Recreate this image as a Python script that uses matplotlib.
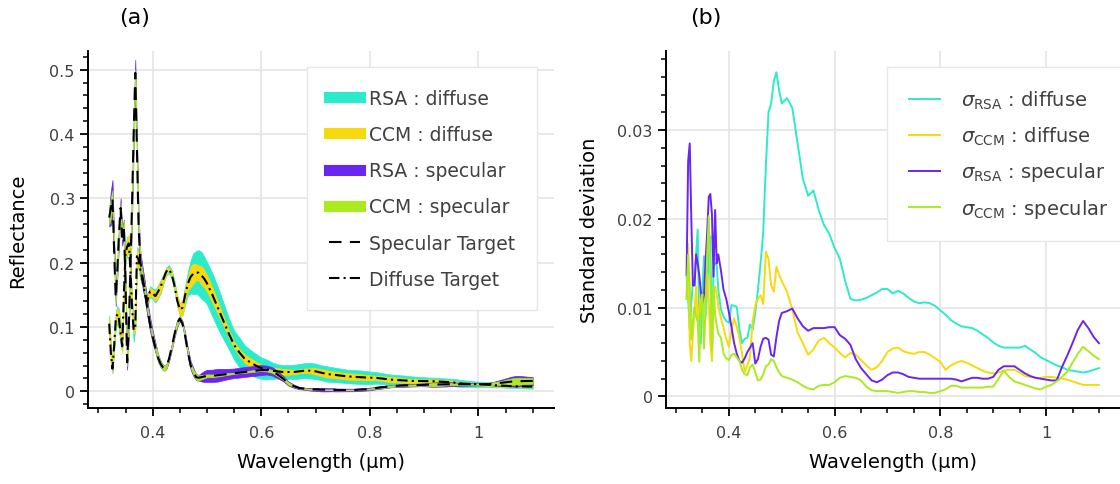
import numpy as np
import matplotlib
matplotlib.use('Agg')
import matplotlib.pyplot as plt
from matplotlib.ticker import MultipleLocator, FuncFormatter

# Wellenlaengen (um): fein im UV-Bereich, dann grober
wl = np.concatenate([np.linspace(0.32, 0.38, 21),
                     np.linspace(0.385, 0.50, 24),
                     np.linspace(0.51, 1.10, 60)])

# Zielspektren (Reflektanz)
spec_target = np.array([
    0.270, 0.285, 0.300, 0.220, 0.145, 0.190, 0.245, 0.285, 0.240, 0.255, 0.170,
    0.045, 0.100, 0.190, 0.290, 0.400, 0.495, 0.380, 0.260, 0.205, 0.185,
    0.160, 0.130, 0.105, 0.085, 0.068, 0.052, 0.042, 0.036, 0.038, 0.050, 0.068, 0.088,
    0.105, 0.113, 0.105, 0.085, 0.060, 0.040, 0.030, 0.022, 0.021, 0.022, 0.023, 0.024,
    0.024, 0.025, 0.026, 0.027, 0.028, 0.029, 0.030, 0.031, 0.032, 0.033,
    0.033, 0.031, 0.026, 0.020, 0.012, 0.008, 0.005, 0.004, 0.003, 0.003,
    0.0025, 0.0025, 0.0025, 0.002, 0.002, 0.002, 0.002, 0.0025, 0.003, 0.0035,
    0.005, 0.006, 0.007, 0.008, 0.0085, 0.009, 0.0093, 0.0095, 0.0098, 0.010,
    0.0102, 0.0104, 0.0106, 0.0108, 0.011, 0.011, 0.011, 0.011, 0.011, 0.011,
    0.0112, 0.0115, 0.012, 0.013, 0.014, 0.015, 0.0155, 0.0158, 0.016, 0.016])

diff_target = np.array([
    0.105, 0.060, 0.035, 0.070, 0.110, 0.120, 0.112, 0.090, 0.070, 0.150, 0.215,
    0.225, 0.230, 0.190, 0.130, 0.095, 0.100, 0.210, 0.205, 0.190, 0.178,
    0.155, 0.140, 0.155, 0.152, 0.148, 0.155, 0.163, 0.175, 0.186, 0.190, 0.182, 0.165,
    0.142, 0.127, 0.130, 0.150, 0.168, 0.178, 0.183, 0.185, 0.184, 0.180, 0.175, 0.168,
    0.150, 0.130, 0.110, 0.090, 0.072, 0.060, 0.050, 0.045, 0.040, 0.036,
    0.034, 0.032, 0.031, 0.030, 0.030, 0.030, 0.031, 0.032, 0.032, 0.031,
    0.029, 0.027, 0.026, 0.025, 0.024, 0.023, 0.0225, 0.022, 0.0215, 0.021,
    0.021, 0.020, 0.019, 0.018, 0.0175, 0.017, 0.0165, 0.016, 0.016, 0.0158,
    0.0157, 0.0155, 0.015, 0.0145, 0.014, 0.013, 0.012, 0.0115, 0.0113, 0.011,
    0.0105, 0.010, 0.0095, 0.009, 0.0085, 0.008, 0.0078, 0.0075, 0.0073, 0.0072])

# Standardabweichungen
sig_rsa_diff = np.array([
    0.0135, 0.0110, 0.0075, 0.0105, 0.0130, 0.0125, 0.0160, 0.0188, 0.0080, 0.0060, 0.0120,
    0.0158, 0.0090, 0.0120, 0.0160, 0.0180, 0.0040, 0.0146, 0.0150, 0.0148, 0.0120,
    0.0098, 0.0090, 0.0085, 0.0083, 0.0103, 0.0102, 0.0101, 0.0075, 0.0060, 0.0065, 0.0066, 0.0081,
    0.0075, 0.0095, 0.0120, 0.0150, 0.0185, 0.0260, 0.0320, 0.0330, 0.0355, 0.0365, 0.0345, 0.0330,
    0.0336, 0.0325, 0.0285, 0.0245, 0.0226, 0.0232, 0.0210, 0.0193, 0.0183, 0.0167,
    0.0155, 0.0130, 0.0110, 0.0108, 0.0109, 0.0111, 0.0114, 0.0117, 0.0121, 0.0121,
    0.0116, 0.0119, 0.0116, 0.0111, 0.0107, 0.0105, 0.0106, 0.0105, 0.0102, 0.0097,
    0.0092, 0.0086, 0.0082, 0.0079, 0.0078, 0.0077, 0.0074, 0.0070, 0.0066, 0.0061,
    0.0057, 0.0055, 0.0055, 0.0055, 0.0055, 0.0057, 0.0053, 0.0049, 0.0044, 0.0041,
    0.0038, 0.0035, 0.0033, 0.0030, 0.0029, 0.0028, 0.0027, 0.0028, 0.0030, 0.0032])

sig_ccm_diff = np.array([
    0.0110, 0.0172, 0.0060, 0.0040, 0.0070, 0.0095, 0.0124, 0.0085, 0.0100, 0.0116, 0.0095,
    0.0110, 0.0140, 0.0138, 0.0105, 0.0060, 0.0040, 0.0116, 0.0124, 0.0115, 0.0102,
    0.0088, 0.0077, 0.0065, 0.0056, 0.0075, 0.0088, 0.0078, 0.0066, 0.0048, 0.0028, 0.0035, 0.0045,
    0.0085, 0.0103, 0.0110, 0.0114, 0.0104, 0.0163, 0.0155, 0.0125, 0.0118, 0.0146, 0.0137, 0.0130,
    0.0118, 0.0098, 0.0072, 0.0060, 0.0047, 0.0053, 0.0063, 0.0066, 0.0060, 0.0055,
    0.0049, 0.0044, 0.0049, 0.0047, 0.0041, 0.0035, 0.0030, 0.0033, 0.0040, 0.0050,
    0.0054, 0.0055, 0.0051, 0.0049, 0.0048, 0.0050, 0.0050, 0.0047, 0.0043, 0.0039,
    0.0030, 0.0035, 0.0038, 0.0040, 0.0038, 0.0035, 0.0032, 0.0029, 0.0027, 0.0026,
    0.0027, 0.0029, 0.0030, 0.0030, 0.0027, 0.0023, 0.0022, 0.0021, 0.0021, 0.0022,
    0.0022, 0.0021, 0.0020, 0.0019, 0.0017, 0.0015, 0.0013, 0.0013, 0.0013, 0.0013])

sig_rsa_spec = np.array([
    0.0137, 0.0265, 0.0285, 0.0199, 0.0125, 0.0125, 0.0160, 0.0150, 0.0137, 0.0118, 0.0105,
    0.0115, 0.0153, 0.0185, 0.0225, 0.0228, 0.0205, 0.0135, 0.0210, 0.0150, 0.0160,
    0.0142, 0.0120, 0.0110, 0.0095, 0.0078, 0.0060, 0.0048, 0.0040, 0.0038, 0.0043, 0.0050, 0.0055,
    0.0060, 0.0037, 0.0042, 0.0056, 0.0065, 0.0066, 0.0064, 0.0047, 0.0045, 0.0067, 0.0085, 0.0094,
    0.0096, 0.0099, 0.0088, 0.0079, 0.0074, 0.0077, 0.0077, 0.0077, 0.0078, 0.0078,
    0.0069, 0.0065, 0.0058, 0.0042, 0.0032, 0.0025, 0.0018, 0.0016, 0.0019, 0.0024,
    0.0027, 0.0027, 0.0025, 0.0022, 0.0021, 0.0020, 0.0020, 0.0020, 0.0020, 0.0020,
    0.0020, 0.0020, 0.0019, 0.0017, 0.0019, 0.0021, 0.0021, 0.0020, 0.0020, 0.0022,
    0.0030, 0.0034, 0.0034, 0.0034, 0.0030, 0.0026, 0.0023, 0.0021, 0.0020, 0.0019,
    0.0018, 0.0018, 0.0033, 0.0046, 0.0060, 0.0075, 0.0085, 0.0077, 0.0067, 0.0060])

sig_ccm_spec = np.array([
    0.0110, 0.0160, 0.0125, 0.0064, 0.0085, 0.0101, 0.0090, 0.0085, 0.0039, 0.0105, 0.0115,
    0.0054, 0.0101, 0.0160, 0.0203, 0.0125, 0.0052, 0.0124, 0.0092, 0.0080, 0.0071,
    0.0066, 0.0048, 0.0043, 0.0041, 0.0047, 0.0048, 0.0044, 0.0040, 0.0030, 0.0025, 0.0024, 0.0033,
    0.0036, 0.0027, 0.0018, 0.0019, 0.0025, 0.0034, 0.0036, 0.0042, 0.0040, 0.0033, 0.0027, 0.0023,
    0.0021, 0.0019, 0.0016, 0.0012, 0.0009, 0.0008, 0.0012, 0.0013, 0.0013, 0.0016,
    0.0021, 0.0023, 0.0022, 0.0021, 0.0018, 0.0011, 0.0007, 0.0006, 0.0006, 0.0006,
    0.0005, 0.0004, 0.0005, 0.0006, 0.0006, 0.0005, 0.0005, 0.0004, 0.0004, 0.0006,
    0.0008, 0.0012, 0.0012, 0.0010, 0.0010, 0.0010, 0.0010, 0.0010, 0.0011, 0.0011,
    0.0020, 0.0029, 0.0022, 0.0017, 0.0015, 0.0013, 0.0011, 0.0009, 0.0008, 0.0011,
    0.0013, 0.0017, 0.0022, 0.0028, 0.0038, 0.0048, 0.0056, 0.0051, 0.0046, 0.0042])

c_rsa_diff = '#2cebcb'
c_ccm_diff = '#f6da0e'
c_rsa_spec = '#6a25f0'
c_ccm_spec = '#aaeb20'

fig = plt.figure(figsize=(11.2, 4.85), dpi=100)
ax1 = fig.add_axes([0.0786, 0.1567, 0.416, 0.736])
ax2 = fig.add_axes([0.5946, 0.1567, 0.405, 0.736])

fmt = FuncFormatter(lambda v, p: '%g' % round(v, 6))


def stil(ax):
    ax.grid(True, color='#e6e6e6', lw=1.3)
    ax.set_axisbelow(True)
    for s in ['top', 'right']:
        ax.spines[s].set_visible(False)
    for s in ['left', 'bottom']:
        ax.spines[s].set_linewidth(1.4)
    ax.tick_params(which='major', direction='out', length=6, width=1.3,
                   labelsize=11.5, labelcolor='#404040')
    ax.tick_params(axis='x', which='major', pad=6)
    ax.tick_params(which='minor', direction='out', length=3.5, width=1.1)
    ax.xaxis.set_major_locator(MultipleLocator(0.2))
    ax.xaxis.set_minor_locator(MultipleLocator(0.05))
    ax.xaxis.set_major_formatter(fmt)
    ax.yaxis.set_major_formatter(fmt)
    ax.set_xlim(0.281, 1.139)
    ax.set_xlabel('Wavelength (µm)', fontsize=14, labelpad=9)


# (a) Reflektanz mit Baendern +- sigma
ax1.fill_between(wl, diff_target - sig_rsa_diff, diff_target + sig_rsa_diff,
                 color=c_rsa_diff, lw=0.5)
ax1.fill_between(wl, diff_target - sig_ccm_diff, diff_target + sig_ccm_diff,
                 color=c_ccm_diff, lw=0.5)
ax1.fill_between(wl, spec_target - sig_rsa_spec, spec_target + sig_rsa_spec,
                 color=c_rsa_spec, lw=0.5)
ax1.fill_between(wl, spec_target - sig_ccm_spec, spec_target + sig_ccm_spec,
                 color=c_ccm_spec, lw=0.5)
ax1.plot(wl, spec_target, color='black', lw=1.5, ls=(0, (6, 4)))
ax1.plot(wl, diff_target, color='black', lw=1.5, ls=(0, (5, 2, 1, 2)))

handles = [plt.Line2D([], [], color=c_rsa_diff, lw=8),
           plt.Line2D([], [], color=c_ccm_diff, lw=8),
           plt.Line2D([], [], color=c_rsa_spec, lw=8),
           plt.Line2D([], [], color=c_ccm_spec, lw=8),
           plt.Line2D([], [], color='black', lw=1.5, ls=(0, (6, 4))),
           plt.Line2D([], [], color='black', lw=1.5, ls=(0, (5, 2, 1, 2)))]
labels = ['RSA : diffuse', 'CCM : diffuse', 'RSA : specular', 'CCM : specular',
          'Specular Target', 'Diffuse Target']
leg = ax1.legend(handles, labels, loc='upper right', bbox_to_anchor=(0.963, 0.955),
                 borderaxespad=0, fontsize=13.5, labelspacing=0.92, handlelength=1.65,
                 handletextpad=0.5, borderpad=1.15, fancybox=False, framealpha=1,
                 edgecolor='#e6e6e6')
for t in leg.get_texts():
    t.set_color('#404040')

stil(ax1)
ax1.yaxis.set_major_locator(MultipleLocator(0.1))
ax1.yaxis.set_minor_locator(MultipleLocator(0.02))
ax1.set_ylim(-0.026, 0.529)
ax1.set_ylabel('Reflectance', fontsize=14, labelpad=16)

# (b) Standardabweichungen
ax2.plot(wl, sig_rsa_diff, color=c_rsa_diff, lw=1.4)
ax2.plot(wl, sig_ccm_diff, color=c_ccm_diff, lw=1.4)
ax2.plot(wl, sig_rsa_spec, color=c_rsa_spec, lw=1.4)
ax2.plot(wl, sig_ccm_spec, color=c_ccm_spec, lw=1.4)

labels2 = [r'$\sigma_{\mathrm{RSA}}$ : diffuse', r'$\sigma_{\mathrm{CCM}}$ : diffuse',
           r'$\sigma_{\mathrm{RSA}}$ : specular', r'$\sigma_{\mathrm{CCM}}$ : specular']
leg2 = ax2.legend(labels2, loc='upper right', bbox_to_anchor=(1.024, 0.955),
                  borderaxespad=0, fontsize=14, labelspacing=0.7, handlelength=1.6,
                  handletextpad=1.1, borderpad=1.1, fancybox=False, framealpha=1,
                  edgecolor='#e6e6e6')
for t in leg2.get_texts():
    t.set_color('#404040')

stil(ax2)
ax2.yaxis.set_major_locator(MultipleLocator(0.01))
ax2.yaxis.set_minor_locator(MultipleLocator(0.002))
ax2.set_ylim(-0.0013, 0.0389)
ax2.set_ylabel('Standard deviation', fontsize=14, labelpad=13)

fig.text(135 / 1120, 1 - 18 / 485, '(a)', fontsize=16, ha='center', va='center')
fig.text(706 / 1120, 1 - 18 / 485, '(b)', fontsize=16, ha='center', va='center')

fig.savefig('out.png', dpi=100)
